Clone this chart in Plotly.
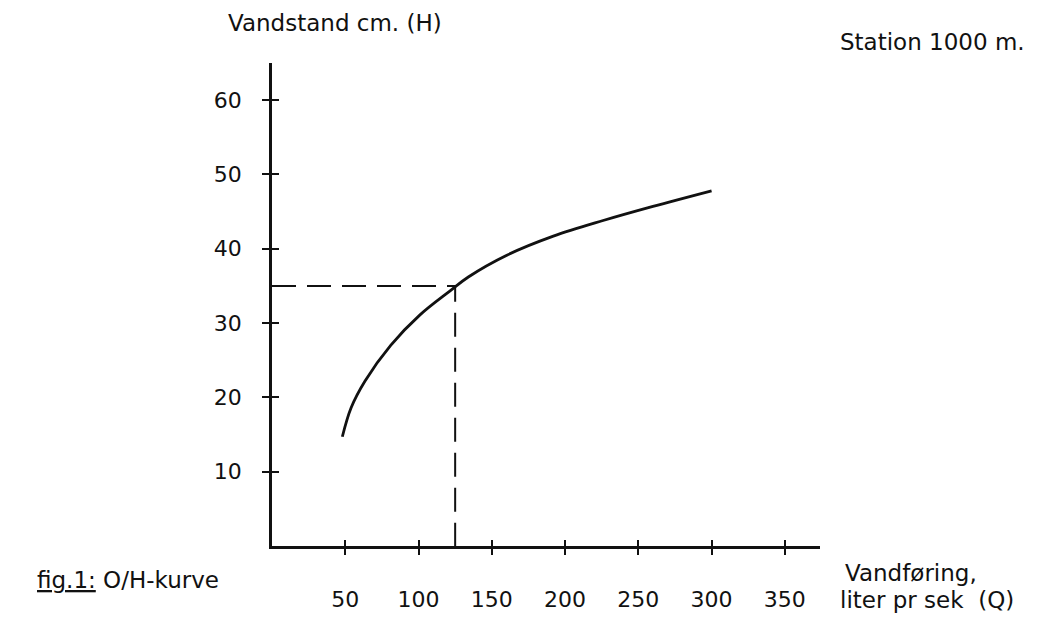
import plotly.graph_objects as go

# Rating curve (Q = vandføring, liter pr sek; H = vandstand, cm)
Q_curve = [48, 54, 63.5, 81, 101, 122, 134, 161, 192, 226, 260, 300]
H_curve = [14.7, 18.6, 22.2, 27.0, 31.1, 34.4, 36.2, 39.2, 41.7, 43.8, 45.7, 47.8]

# Reading example (dashed guide lines)
Q_read = 125
H_read = 35

x_ticks = [50, 100, 150, 200, 250, 300, 350]
y_ticks = [10, 20, 30, 40, 50, 60]
x_max = 374
y_max = 65

FONT = "DejaVu Sans"
INK = "#111111"

# page body has an 8px margin; figure pixel = screen pixel - 8
OFF = 8
L, R, T, B = 272 - OFF, 1039 - (820 - OFF), 63 - OFF, 622 - (546 - OFF)

fig = go.Figure()

fig.add_trace(go.Scatter(
    x=[0, Q_read, Q_read], y=[H_read, H_read, 0],
    mode="lines", line=dict(color=INK, width=2, dash="24px,11px"),
    showlegend=False, hoverinfo="skip"))

fig.add_trace(go.Scatter(
    x=Q_curve, y=H_curve, mode="lines",
    line=dict(color=INK, width=2.8, shape="spline", smoothing=1.0),
    showlegend=False))

# invisible trace to register the overlay axes (crossing tick marks)
fig.add_trace(go.Scatter(
    x=Q_curve, y=H_curve, mode="lines", xaxis="x2", yaxis="y2",
    line=dict(width=0), opacity=0, showlegend=False, hoverinfo="skip"))

tick_font = dict(family=FONT, size=22, color=INK)

fig.update_layout(
    width=1039, height=622,
    margin=dict(l=L, r=R, t=T, b=B, autoexpand=False),
    paper_bgcolor="white", plot_bgcolor="white",
    font=dict(family=FONT, color=INK),
    xaxis=dict(range=[0, x_max], tickvals=x_ticks, ticks="outside", ticklen=6,
               tickwidth=1.5, tickcolor=INK, showline=True, linecolor=INK,
               linewidth=2.8, showgrid=False, zeroline=False,
               tickfont=tick_font, ticklabelstandoff=26),
    yaxis=dict(range=[0, y_max], tickvals=y_ticks, ticks="outside", ticklen=7,
               tickwidth=2, tickcolor=INK, showline=True, linecolor=INK,
               linewidth=2.8, showgrid=False, zeroline=False,
               tickfont=tick_font, ticklabelstandoff=16),
    xaxis2=dict(range=[0, x_max], tickvals=x_ticks, ticks="inside", ticklen=6,
                tickwidth=1.5, tickcolor=INK, showline=False, showgrid=False,
                zeroline=False, showticklabels=False, overlaying="x",
                anchor="y2", side="bottom"),
    yaxis2=dict(range=[0, y_max], tickvals=y_ticks, ticks="inside", ticklen=7,
                tickwidth=2, tickcolor=INK, showline=False, showgrid=False,
                zeroline=False, showticklabels=False, overlaying="y",
                anchor="x2", side="left"),
)

def px_x(px):
    return (px - 272) / 548

def px_y(py):
    return (546 - py) / 483

ann_font = dict(family=FONT, size=23, color=INK)
annotations = [
    dict(text="Vandstand cm. (H)", x=px_x(226), y=px_y(23), xanchor="left", yanchor="middle"),
    dict(text="Station 1000 m.", x=px_x(1027), y=px_y(42), xanchor="right", yanchor="middle"),
    dict(text="<u>fig.1:</u> O/H-kurve", x=px_x(35), y=px_y(580), xanchor="left", yanchor="middle"),
    dict(text="Vandføring,", x=px_x(843), y=px_y(573), xanchor="left", yanchor="middle"),
    dict(text="liter pr sek  (Q)", x=px_x(838), y=px_y(600), xanchor="left", yanchor="middle"),
]
for a in annotations:
    fig.add_annotation(xref="paper", yref="paper", showarrow=False, font=ann_font, **a)

fig.write_html("out.html")
